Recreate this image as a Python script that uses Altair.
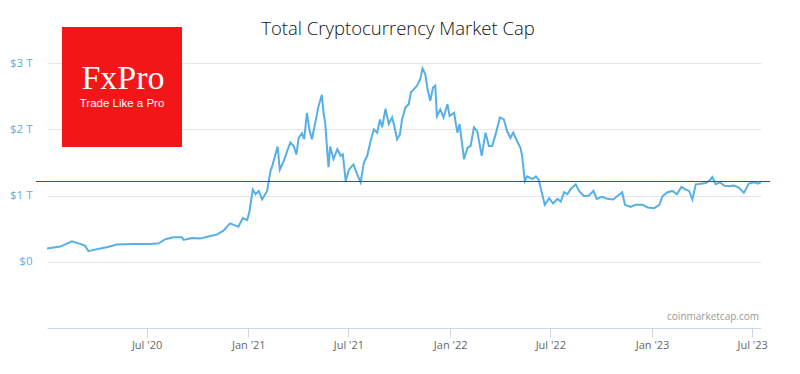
import altair as alt
import pandas as pd

# days since 2020-01-01 and total market cap in trillions USD
days = [2, 26, 47, 62, 71, 77, 86, 110, 128, 158, 189, 204, 216, 231, 246, 249, 264, 279,
        297, 309, 321, 333, 342, 348, 356, 364, 368, 374, 379, 385, 391, 400, 406, 409,
        419, 423, 430, 437, 442, 448, 453, 457, 463, 467, 472, 477, 481, 487, 493, 499,
        502, 505, 508, 511, 514, 520, 527, 533, 537, 542, 548, 556, 563, 569, 575, 581,
        587, 593, 599, 604, 608, 614, 620, 626, 630, 635, 640, 644, 650, 656, 660, 666,
        671, 677, 681, 686, 690, 695, 700, 704, 707, 713, 719, 726, 730, 738, 744, 748,
        756, 762, 768, 774, 780, 788, 795, 801, 807, 813, 821, 828, 834, 840, 845, 852,
        858, 861, 866, 870, 880, 886, 891, 896, 902, 910, 917, 925, 931, 937, 943, 949,
        958, 964, 973, 982, 990, 996, 1006, 1015, 1026, 1033, 1042, 1047, 1057, 1066,
        1079, 1088, 1100, 1109, 1115, 1124, 1133, 1141, 1149, 1157, 1163, 1169, 1175,
        1184, 1193, 1199, 1205, 1211, 1219, 1226, 1235, 1244, 1253, 1262, 1271, 1281,
        1287, 1293]
cap_t = [0.20, 0.23, 0.31, 0.27, 0.24, 0.16, 0.18, 0.22, 0.26, 0.27, 0.27, 0.28, 0.34,
         0.37, 0.37, 0.33, 0.36, 0.35, 0.39, 0.41, 0.47, 0.58, 0.55, 0.53, 0.66, 0.63,
         0.76, 1.09, 1.02, 1.07, 0.94, 1.07, 1.37, 1.44, 1.74, 1.39, 1.52, 1.69, 1.80,
         1.75, 1.62, 1.87, 1.94, 1.85, 2.25, 1.97, 1.85, 2.10, 2.35, 2.52, 2.25, 2.10,
         1.75, 1.43, 1.74, 1.55, 1.70, 1.60, 1.62, 1.22, 1.39, 1.47, 1.32, 1.20, 1.50,
         1.60, 1.82, 2.00, 1.95, 2.15, 2.03, 2.31, 2.08, 2.18, 2.05, 1.85, 1.92, 2.15,
         2.33, 2.38, 2.56, 2.61, 2.66, 2.76, 2.92, 2.83, 2.61, 2.43, 2.63, 2.66, 2.20,
         2.30, 2.18, 2.38, 2.20, 2.25, 1.95, 2.08, 1.55, 1.72, 1.75, 2.03, 1.97, 1.60,
         1.95, 1.75, 1.75, 1.92, 2.18, 2.15, 1.97, 1.87, 1.95, 1.82, 1.72, 1.60, 1.22,
         1.29, 1.25, 1.29, 1.24, 1.07, 0.86, 0.96, 0.88, 0.95, 0.91, 1.05, 1.02, 1.10,
         1.17, 1.07, 0.99, 1.00, 1.07, 0.95, 0.98, 0.95, 0.94, 0.99, 1.05, 0.86, 0.83,
         0.86, 0.86, 0.82, 0.81, 0.86, 0.99, 1.05, 1.07, 1.02, 1.13, 1.09, 1.07, 0.94,
         1.17, 1.18, 1.19, 1.22, 1.28, 1.17, 1.20, 1.15, 1.14, 1.15, 1.12, 1.04, 1.18,
         1.20, 1.18, 1.20]

level_t = [1.22]
tick_dates = ["2020-07-01", "2021-01-01", "2021-07-01", "2022-01-01",
              "2022-07-01", "2023-01-01", "2023-07-01"]
y_ticks = [0, 1, 2, 3]
title_text = "Total Cryptocurrency Market Cap"
logo_main = "FxPro"
logo_sub = "Trade Like a Pro"
source_text = "coinmarketcap.com"

df = pd.DataFrame({
    "date": pd.Timestamp("2020-01-01") + pd.to_timedelta(days, unit="D"),
    "cap": cap_t,
})

x_scale = alt.Scale(domain=["2020-01-03", "2023-07-17"])
y_scale = alt.Scale(domain=[-1, 3.5], nice=False, zero=False)

x_enc = alt.X("date:T", scale=x_scale, title=None,
              axis=alt.Axis(values=tick_dates,
                            labelExpr="timeFormat(datum.value, \"%b '%y\")",
                            grid=False, domainColor="#ccd6eb", tickColor="#ccd6eb",
                            tickSize=9, labelColor="#666666", labelFontSize=11,
                            labelFont="Open Sans", labelPadding=2))
y_enc = alt.Y("cap:Q", scale=y_scale, title=None,
              axis=alt.Axis(values=y_ticks,
                            labelExpr="datum.value == 0 ? '$0' : '$' + datum.value + ' T'",
                            domain=False, ticks=False, gridColor="#e6e6e6",
                            labelColor="#5aaee0", labelFontSize=11.5,
                            labelFont="Open Sans", labelPadding=15))

line = alt.Chart(df).mark_line(color="#55b0e6", strokeWidth=2).encode(x=x_enc, y=y_enc)

rule = alt.Chart(pd.DataFrame({"cap": level_t})).mark_rule(
    color="#c81a1e", strokeWidth=1, yOffset=0.5).encode(
    y=alt.Y("cap:Q", scale=y_scale), x=alt.value(-11), x2=alt.value(723))

one = alt.Data(values=[{}])
logo_box = alt.Chart(one).mark_rect(color="#f21618").encode(
    x=alt.value(15), x2=alt.value(135), y=alt.value(-3), y2=alt.value(117))
logo_t1 = alt.Chart(one).mark_text(
    text=logo_main, font="Liberation Serif", fontSize=34, color="white",
    align="center", baseline="alphabetic").encode(x=alt.value(76), y=alt.value(59))
logo_t2 = alt.Chart(one).mark_text(
    text=logo_sub, font="Liberation Sans", fontSize=11.5, color="white",
    align="center", baseline="alphabetic").encode(x=alt.value(75), y=alt.value(77))
title = alt.Chart(one).mark_text(
    text=title_text, font="Open Sans", fontSize=18.5, fontWeight=300, color="#111111",
    align="center", baseline="middle").encode(x=alt.value(351), y=alt.value(-1))
source = alt.Chart(one).mark_text(
    text=source_text, font="Open Sans", fontSize=10, color="#999999",
    align="right", baseline="alphabetic").encode(x=alt.value(712), y=alt.value(290))

chart = alt.layer(line, rule, logo_box, logo_t1, logo_t2, title, source).properties(
    width=714, height=298,
    background="white",
    autosize=alt.AutoSizeParams(type="none"),
    padding={"left": 39, "top": 22, "right": 31, "bottom": 30},
).configure_view(stroke=None, strokeWidth=0)

chart.save("out.html", embed_options={"renderer": "svg", "actions": False})
